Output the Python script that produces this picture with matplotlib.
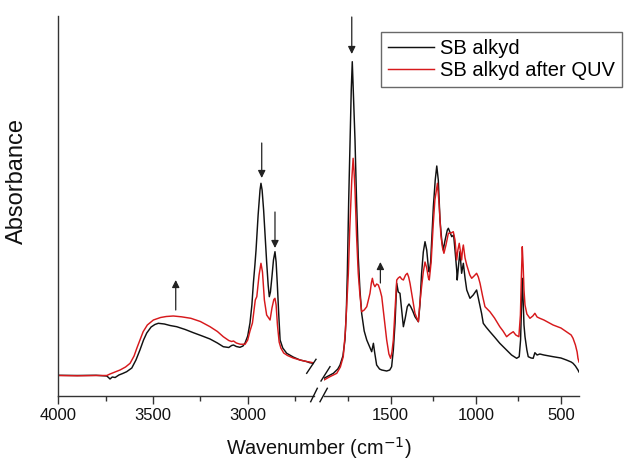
# -*- coding: utf-8 -*-
"""FTIR spectra of the SB alkyd before and after QUV ageing,
drawn on a broken wavenumber axis."""
import matplotlib
matplotlib.use("Agg")
import matplotlib.pyplot as plt
from matplotlib.lines import Line2D
import numpy as np

plt.rcParams["font.family"] = ["Liberation Sans", "DejaVu Sans"]
W, H = 631, 461
INK = "#333333"
RED = "#d7191c"

# wavenumber (cm-1) and absorbance (a.u.)
wn_black = [4000, 3900, 3800, 3760, 3744, 3735, 3727, 3715, 3700, 3680, 3660,
            3639, 3612, 3590, 3569, 3550, 3533, 3510, 3490, 3472, 3440, 3410,
            3375, 3330, 3287, 3240, 3199, 3160, 3129, 3100, 3085, 3075, 3060,
            3041, 3025, 3014, 3000, 2988, 2978, 2970, 2962, 2956, 2945, 2935,
            2930, 2924, 2916, 2909, 2900, 2892, 2886, 2880, 2872, 2864, 2856,
            2850, 2844, 2836, 2829, 2815, 2794, 2760, 2724, 2690, 2673, 2650,
            1891, 1860, 1836, 1810, 1797, 1780, 1768, 1760, 1754, 1746, 1738,
            1731, 1725, 1719, 1709, 1700, 1690, 1680, 1670, 1655, 1640, 1620,
            1611, 1601, 1594, 1582, 1565, 1552, 1523, 1505, 1494, 1484, 1474,
            1464, 1455, 1445, 1435, 1425, 1414, 1402, 1392, 1382, 1370, 1357,
            1337, 1328, 1318, 1308, 1298, 1288, 1278, 1273, 1265, 1249, 1238,
            1229, 1220, 1210, 1200, 1191, 1180, 1167, 1161, 1150, 1141, 1130,
            1122, 1112, 1109, 1101, 1093, 1088, 1083, 1073, 1063, 1053, 1034,
            1015, 995, 980, 966, 956, 940, 917, 890, 859, 840, 819, 790, 760,
            745, 737, 732, 727, 722, 717, 711, 700, 692, 675, 663, 653, 640,
            624, 600, 546, 500, 468, 440, 429, 415, 400, 394]
ab_black = [20.7, 20.5, 20.7, 20.2, 20, 18.5, 17, 19, 18.5, 21, 22.5,
            24.3, 28, 36, 46, 56, 63, 69, 71.5, 72.7, 72, 70.5,
            69.3, 66.5, 63.3, 60, 57, 53, 49.3, 48.5, 50.5, 51, 49.5,
            48.7, 50, 53, 60, 73, 91, 113, 131, 146, 181, 206,
            212.7, 206, 186, 163, 134, 111, 99.3, 104, 119.3, 136, 144.3,
            134, 113, 81, 56, 48, 42.7, 39, 36, 34.5, 33.3, 32.5,
            17.7, 20.5, 22.7, 27, 31, 40, 56, 84, 122.7, 196, 256,
            306, 334.3, 306, 256, 196, 139.3, 106, 82.7, 65, 56, 48,
            44.3, 52.7, 44, 31, 27, 26, 25, 26, 29.3, 46, 72.7,
            112.7, 104, 102.7, 86, 69.3, 78, 89.3, 92, 89.3, 85, 79.3,
            74.3, 91, 122.7, 144, 154.3, 146, 128, 124, 134, 189.3, 216,
            230, 216, 176, 156, 146, 156, 166, 167.7, 163, 159.3, 161,
            146, 126, 116, 131, 144.3, 134, 122.7, 132.7, 118, 106, 97.7,
            101, 106, 94, 82.7, 72.7, 69, 64.3, 59, 52.7, 49.5, 46, 41, 37.7,
            39.3, 56, 86, 117.7, 96, 71, 59.3, 46, 39.3, 38, 37.7, 43.3, 41,
            42, 41, 39.3, 38, 36, 34, 32.7, 30, 26, 24]

wn_red = [4000, 3900, 3800, 3744, 3727, 3700, 3674, 3645, 3621, 3600, 3585,
          3569, 3552, 3530, 3498, 3460, 3430, 3393, 3350, 3300, 3250, 3199,
          3160, 3129, 3100, 3085, 3075, 3060, 3040, 3014, 3000, 2988, 2975,
          2960, 2952, 2940, 2930, 2922, 2912, 2900, 2882, 2872, 2862, 2856,
          2850, 2843, 2834, 2825, 2810, 2790, 2760, 2724, 2690, 2673, 2650,
          1891, 1860, 1816, 1795, 1778, 1765, 1756, 1748, 1740, 1733, 1728,
          1720, 1715, 1709, 1700, 1690, 1680, 1670, 1655, 1640, 1621, 1613,
          1607, 1600, 1592, 1582, 1572, 1562, 1552, 1540, 1523, 1510, 1500,
          1492, 1484, 1474, 1464, 1455, 1445, 1435, 1425, 1412, 1402, 1394,
          1386, 1370, 1357, 1337, 1328, 1318, 1308, 1298, 1288, 1278, 1273,
          1262, 1250, 1240, 1225, 1215, 1205, 1195, 1187, 1175, 1161, 1145,
          1132, 1122, 1112, 1105, 1097, 1090, 1083, 1078, 1073, 1063, 1053,
          1035, 1024, 1010, 995, 985, 975, 960, 946, 917, 890, 859, 840, 819,
          800, 780, 765, 747, 738, 732, 727, 722, 717, 711, 700, 682, 665,
          653, 640, 624, 600, 546, 500, 468, 440, 429, 415, 405, 400, 394]
ab_red = [20.5, 20.2, 20.5, 20.5, 22, 24, 26, 29, 32.7, 40, 48,
          56, 64.3, 71, 76, 78.5, 79.5, 80, 79.2, 77.7, 74.5, 69.3,
          64.5, 59.3, 55.5, 54.5, 55, 53, 51.8, 51.7, 56, 65, 73,
          96, 99.3, 121, 132.7, 124, 96, 81, 76, 88, 96.5, 97.7,
          91, 71, 54, 48, 43, 40.5, 38, 36, 34.5, 34, 33,
          16, 19, 22.7, 29, 39.3, 66, 96, 122.7, 166, 196, 216,
          237.7, 226, 206, 161, 122.7, 101, 84.3, 86, 89.3, 102.7, 113,
          117.7, 112, 109.3, 112, 111, 106, 99.3, 81, 56, 42, 37.7,
          44, 56, 86, 116, 118, 119.3, 117, 116, 121, 122.7, 119,
          112.7, 96, 82.7, 74.3, 93, 109.3, 124, 134, 128, 118, 116,
          134, 171, 196, 212.7, 191, 161, 148, 142.7, 151, 162.7, 163,
          164.3, 156, 136, 146, 152.7, 144, 136, 146, 151, 138, 131,
          121, 117.7, 120, 122.7, 119, 112.7, 100, 89.3, 84.3, 78, 69.3, 65,
          59.3, 62, 64.3, 61, 59.3, 81, 121, 149.3, 131, 106, 91, 82, 77.7,
          80, 82.7, 79, 77.7, 76, 71, 68, 64.3, 61, 57.7, 51, 44, 37.7, 34]

labels = ["SB alkyd", "SB alkyd after QUV"]
left_range = (4000, 2650)
right_range = (1891, 394)
left_major = [4000, 3500, 3000]
left_minor = [3750, 3250, 2750]
right_major = [1500, 1000, 500]
right_minor = [1750, 1250, 750]

# arrows: (wavenumber, tail absorbance, head absorbance)
left_arrows = [(3380, 86, 116), (2926, 253, 218), (2856, 184, 148)]
right_arrows = [(1728, 379, 342), (1560, 113, 134)]


def px(x, y):
    return x / W, 1 - y / H


def style(ax, rng, major, minor):
    ax.set_xlim(*rng)
    ax.set_ylim(0, 380)
    ax.set_xticks(major)
    ax.set_xticks(minor, minor=True)
    ax.set_yticks([])
    for s in ["top", "right"]:
        ax.spines[s].set_visible(False)
    for s in ["left", "bottom"]:
        ax.spines[s].set_color(INK)
        ax.spines[s].set_linewidth(1.0)
    ax.tick_params(axis="x", which="major", direction="out", length=5.8,
                   width=1, color=INK, labelsize=12, pad=3.0,
                   labelcolor="#111111")
    ax.tick_params(axis="x", which="minor", direction="out", length=3.6,
                   width=1, color=INK)
    ax.patch.set_alpha(0)


fig = plt.figure(figsize=(W / 100, H / 100), dpi=100)
axl = fig.add_axes([58.3 / W, 1 - 396 / H, (314 - 58.3) / W, 380 / H])
axr = fig.add_axes([324 / W, 1 - 396 / H, (579 - 324) / W, 380 / H])
style(axl, left_range, left_major, left_minor)
style(axr, right_range, right_major, right_minor)
axr.spines["left"].set_visible(False)

for ax in (axl, axr):
    ax.plot(wn_black, ab_black, color="#111111", lw=1.05, label=labels[0])
    ax.plot(wn_red, ab_red, color=RED, lw=1.05, label=labels[1])

for ax, arrows in ((axl, left_arrows), (axr, right_arrows)):
    for x, y0, y1 in arrows:
        ax.annotate("", xy=(x, y1), xytext=(x, y0),
                    arrowprops=dict(arrowstyle="-|>", color="#222222", lw=0.9,
                                    mutation_scale=11, shrinkA=0, shrinkB=0))

# break marks on the axis and on the curves
for (x0, y0), (x1, y1) in [((310.7, 401.7), (317.3, 388.3)),
                           ((320.0, 401.7), (327.3, 388.3)),
                           ((306.7, 373.3), (316.0, 359.3)),
                           ((321.0, 381.0), (330.0, 366.7))]:
    a, b = px(x0, y0)
    c, d = px(x1, y1)
    fig.add_artist(Line2D([a, c], [b, d], transform=fig.transFigure,
                          color="#111111", lw=1.0))

h, l = axl.get_legend_handles_labels()
leg = fig.legend(h, l, loc="upper left", bbox_to_anchor=px(380.7, 32.3),
                 bbox_transform=fig.transFigure, fontsize=14.5,
                 frameon=True, fancybox=False, borderaxespad=0,
                 borderpad=0.35, handlelength=2.3, handletextpad=0.3,
                 labelspacing=0.12)
leg.get_frame().set_edgecolor("#444444")
leg.get_frame().set_linewidth(1.0)

fig.text(*px(319, 455), "Wavenumber (cm$^{-1}$)", fontsize=14.3,
         ha="center", va="baseline", color="#111111")
fig.text(*px(17, 180.5), "Absorbance", fontsize=17, rotation=90,
         ha="center", va="center", color="#111111")

fig.savefig("out.png", dpi=100, facecolor="white")
